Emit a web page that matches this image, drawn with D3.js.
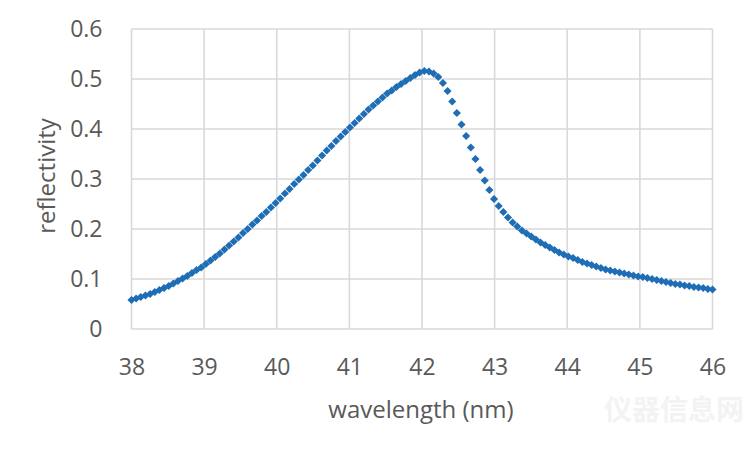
<!DOCTYPE html>
<html><head><meta charset="utf-8">
<script src="https://cdn.jsdelivr.net/npm/d3@7/dist/d3.min.js"></script>
<style>body{margin:0;background:#fff}svg{display:block}</style>
</head><body>
<svg id="c" width="750" height="450"></svg>
<script>
const xTicks = [38, 39, 40, 41, 42, 43, 44, 45, 46];
const yTicks = [0, 0.1, 0.2, 0.3, 0.4, 0.5, 0.6];
const wavelength = [38.000,38.064,38.128,38.192,38.256,38.320,38.384,38.448,38.512,38.576,38.640,38.704,38.768,38.832,38.896,38.960,39.024,39.088,39.152,39.216,39.280,39.344,39.408,39.472,39.536,39.600,39.664,39.728,39.792,39.856,39.920,39.984,40.048,40.112,40.176,40.240,40.304,40.368,40.432,40.496,40.560,40.624,40.688,40.752,40.816,40.880,40.944,41.008,41.072,41.136,41.200,41.264,41.328,41.392,41.456,41.520,41.584,41.648,41.712,41.776,41.840,41.904,41.968,42.032,42.096,42.160,42.224,42.288,42.352,42.416,42.480,42.544,42.608,42.672,42.736,42.800,42.864,42.928,42.992,43.056,43.120,43.184,43.248,43.312,43.376,43.440,43.504,43.568,43.632,43.696,43.760,43.824,43.888,43.952,44.016,44.080,44.144,44.208,44.272,44.336,44.400,44.464,44.528,44.592,44.656,44.720,44.784,44.848,44.912,44.976,45.040,45.104,45.168,45.232,45.296,45.360,45.424,45.488,45.552,45.616,45.680,45.744,45.808,45.872,45.936,46.000];
const reflectivity = [0.058,0.061,0.064,0.067,0.070,0.074,0.078,0.082,0.086,0.091,0.096,0.101,0.106,0.112,0.118,0.123,0.130,0.137,0.144,0.151,0.159,0.167,0.175,0.183,0.192,0.200,0.209,0.217,0.226,0.234,0.243,0.252,0.261,0.271,0.280,0.290,0.299,0.308,0.318,0.327,0.337,0.347,0.357,0.366,0.376,0.385,0.394,0.403,0.412,0.421,0.430,0.439,0.447,0.455,0.463,0.471,0.477,0.484,0.490,0.496,0.502,0.508,0.513,0.516,0.515,0.511,0.504,0.492,0.476,0.455,0.432,0.409,0.386,0.363,0.340,0.318,0.297,0.278,0.260,0.246,0.234,0.223,0.213,0.205,0.197,0.191,0.185,0.179,0.173,0.168,0.163,0.158,0.153,0.149,0.145,0.142,0.138,0.134,0.131,0.128,0.125,0.122,0.119,0.117,0.115,0.113,0.111,0.109,0.107,0.105,0.104,0.102,0.100,0.098,0.096,0.094,0.092,0.090,0.089,0.087,0.086,0.084,0.083,0.082,0.080,0.079];
const xLabel = "wavelength (nm)";
const yLabel = "reflectivity";

const svg = d3.select("#c");
const L = 131.5, R = 712.5, T = 29, B = 329;
const x = d3.scaleLinear().domain([38, 46]).range([L, R]);
const y = d3.scaleLinear().domain([0, 0.6]).range([B, T]);
const font = "'Open Sans', 'Liberation Sans', sans-serif";
const grid = "#d9d9d9";

// gridlines
svg.append("g").selectAll("line").data(yTicks).join("line")
  .attr("x1", L).attr("x2", R).attr("y1", d => y(d)).attr("y2", d => y(d))
  .attr("stroke", grid).attr("stroke-width", 1.6);
svg.append("g").selectAll("line").data(xTicks).join("line")
  .attr("x1", d => x(d)).attr("x2", d => x(d)).attr("y1", T).attr("y2", B)
  .attr("stroke", grid).attr("stroke-width", 1.6);

// axes (labels only)
const yAxis = d3.axisLeft(y).tickValues(yTicks).tickSize(0).tickPadding(29)
  .tickFormat(d => d === 0 ? "0" : d3.format(".1f")(d));
const gy = svg.append("g").attr("transform", `translate(${L},0)`).call(yAxis);
gy.select(".domain").remove();
gy.selectAll("text").attr("font-family", font).attr("font-size", 23).attr("fill", "#595959");

const xAxis = d3.axisBottom(x).tickValues(xTicks).tickSize(0).tickPadding(30).tickFormat(d3.format("d"));
const gx = svg.append("g").attr("transform", `translate(0,${B})`).call(xAxis);
gx.select(".domain").remove();
gx.selectAll("text").attr("font-family", font).attr("font-size", 23).attr("fill", "#595959");

// axis titles
svg.append("text").attr("x", 421).attr("y", 418).attr("text-anchor", "middle")
  .attr("font-family", font).attr("font-size", 24).attr("fill", "#595959").text(xLabel);
svg.append("text").attr("transform", `translate(55,176) rotate(-90)`).attr("text-anchor", "middle")
  .attr("font-family", font).attr("font-size", 24).attr("fill", "#595959").text(yLabel);

// markers
const sym = d3.symbol().type(d3.symbolDiamond2).size(42);
svg.append("g").selectAll("path").data(wavelength.map((w, i) => [w, reflectivity[i]])).join("path")
  .attr("d", sym).attr("transform", d => `translate(${x(d[0])},${y(d[1])})`)
  .attr("fill", "#1f6eb5");

// watermark
svg.append("text").attr("x", 744).attr("y", 420).attr("text-anchor", "end")
  .attr("font-family", "'Noto Sans CJK SC', sans-serif").attr("font-size", 28).attr("font-weight", "bold")
  .attr("fill", "#f3f3f3").text("仪器信息网");
</script>
</body></html>
